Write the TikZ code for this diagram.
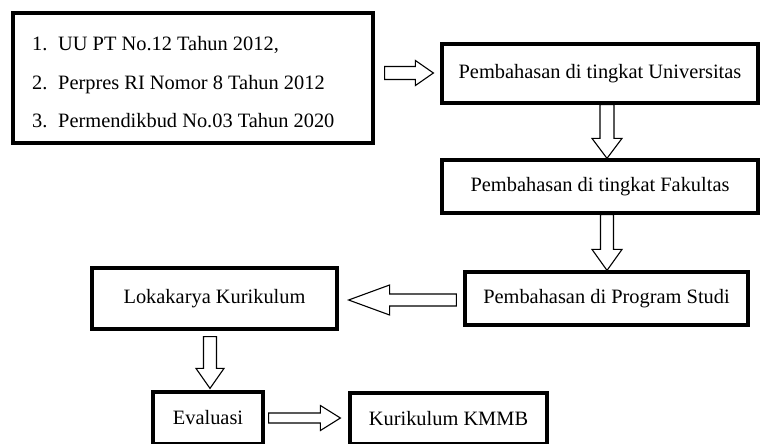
\documentclass[tikz,border=0pt]{standalone}
\usepackage{fontspec}
\setmainfont{Liberation Serif}
\usetikzlibrary{calc}

% hollow block arrow: start, end, shaft half width, head half width, head length
\newcommand\hollowarrow[5]{%
  \coordinate (hb) at ($(#2)!#5!(#1)$);
  \draw[arrowline] ($(#1)!#3!90:(#2)$) -- ($(hb)!#3!-90:(#1)$) -- ($(hb)!#4!-90:(#1)$) -- (#2)
    -- ($(hb)!#4!90:(#1)$) -- ($(hb)!#3!90:(#1)$) -- ($(#1)!#3!-90:(#2)$) -- cycle;}

\begin{document}
\begin{tikzpicture}[x=1pt,y=-1pt,font=\fontsize{20.4}{24}\selectfont,
  box/.style={draw,line width=3.2pt,inner sep=0pt},
  item/.style={anchor=base west,inner sep=0pt},
  arrowline/.style={line width=1.1pt,fill=white}]
\useasboundingbox (0,0) rectangle (760,444);

\node[box,minimum width=360,minimum height=130] (list) at (193,78) {};
\node[item] (l1) at (32,51) {\makebox[26pt][l]{1.}UU PT No.12 Tahun 2012,};
\node[item] (l2) at (32,89) {\makebox[26pt][l]{2.}Perpres RI Nomor 8 Tahun 2012};
\node[item] (l3) at (32,127) {\makebox[26pt][l]{3.}Permendikbud No.03 Tahun 2020};

\node[box,minimum width=316,minimum height=59] (univ) at (600,73.5) {Pembahasan di tingkat Universitas};
\node[box,minimum width=316,minimum height=53] (fak) at (600,186.5) {Pembahasan di tingkat Fakultas};
\node[box,minimum width=283,minimum height=53] (prodi) at (606.5,298.5) {Pembahasan di Program Studi};
\node[box,minimum width=245,minimum height=61] (loka) at (214.5,298.5) {Lokakarya Kurikulum};
\node[box,minimum width=110,minimum height=52] (eval) at (208,418) {Evaluasi};
\node[box,minimum width=197,minimum height=51] (kmmb) at (448.5,418.5) {Kurikulum KMMB};

\coordinate (a1s) at ($(list.east)+(10,-5)$);
\coordinate (a1e) at ($(univ.west)+(-7,-0.5)$);
\coordinate (a2s) at ($(univ.south)+(7,0)$);
\coordinate (a2e) at ($(fak.north)+(7,0)$);
\coordinate (a3s) at ($(fak.south)+(7,0)$);
\coordinate (a3e) at ($(prodi.north)+(0.5,0)$);
\coordinate (a4s) at ($(prodi.west)+(-7,1.5)$);
\coordinate (a4e) at ($(loka.east)+(10,1.5)$);
\coordinate (a5s) at ($(loka.south)+(-4.5,6)$);
\coordinate (a5e) at ($(eval.north)+(2,-2)$);
\coordinate (a6s) at ($(eval.east)+(4,0)$);
\coordinate (a6e) at ($(kmmb.west)+(-8,-0.5)$);

\hollowarrow{a1s}{a1e}{6.5pt}{12.5pt}{18pt}
\hollowarrow{a2s}{a2e}{7pt}{15pt}{20pt}
\hollowarrow{a3s}{a3e}{6.5pt}{15pt}{21pt}
\hollowarrow{a4s}{a4e}{6pt}{15pt}{41pt}
\hollowarrow{a5s}{a5e}{6.5pt}{14pt}{20pt}
\hollowarrow{a6s}{a6e}{5pt}{12.5pt}{20pt}
\end{tikzpicture}
\end{document}
